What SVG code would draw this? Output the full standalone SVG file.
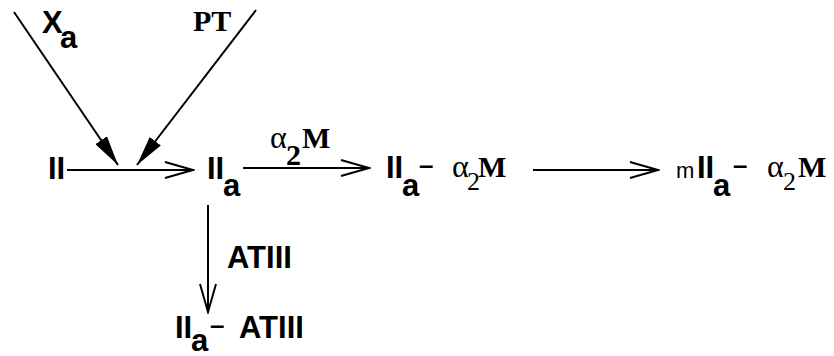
<svg xmlns="http://www.w3.org/2000/svg" width="834" height="356" viewBox="0 0 834 356">
<style>
.s{font-family:"Liberation Sans",Arial,sans-serif;font-weight:bold;font-size:31px;fill:#000}
.d{font-family:"Liberation Sans",Arial,sans-serif;font-weight:bold;font-size:26px;fill:#000}
.m{font-family:"Liberation Sans",Arial,sans-serif;font-size:22px;fill:#000}
.t{font-family:"Liberation Serif","Times New Roman",serif;font-size:32px;fill:#000}
.t2{font-family:"Liberation Serif","Times New Roman",serif;font-size:26px;fill:#000}
.tb{font-family:"Liberation Serif","Times New Roman",serif;font-weight:bold;font-size:30px;fill:#000}
.c{stroke:#000;stroke-width:2;fill:none}
</style>
<defs>
<marker id="fill" markerUnits="userSpaceOnUse" viewBox="0 0 30 14" refX="30" refY="7" markerWidth="30" markerHeight="14" orient="auto">
<path d="M0,0 L30,7 L0,14 z" fill="#000"/>
</marker>
<marker id="open" markerUnits="userSpaceOnUse" viewBox="-2 -2 32 20" refX="28" refY="8" markerWidth="32" markerHeight="20" orient="auto">
<path d="M0,0 L28,8 L0,16" fill="none" stroke="#000" stroke-width="2"/>
</marker>
</defs>
<g id="connectors">
<line class="c" x1="14" y1="12" x2="118" y2="165" marker-end="url(#fill)"/>
<line class="c" x1="256" y1="10" x2="137" y2="165" marker-end="url(#fill)"/>
<line class="c" x1="67" y1="170" x2="193" y2="170" marker-end="url(#open)"/>
<line class="c" x1="243" y1="168" x2="369" y2="168" marker-end="url(#open)"/>
<line class="c" x1="533" y1="170" x2="658" y2="170" marker-end="url(#open)"/>
<line class="c" x1="208" y1="205" x2="208" y2="312" marker-end="url(#open)"/>
</g>
<g id="label-Xa"><text class="s" x="42" y="33">X</text><text class="s" x="60" y="48">a</text></g>
<g id="label-PT"><text class="tb" x="193" y="31">PT</text></g>
<g id="node-II"><text class="s" x="48" y="179">II</text></g>
<g id="node-IIa"><text class="s" x="207" y="179">II</text><text class="s" x="223" y="196">a</text></g>
<g id="label-a2M"><text class="t" x="270" y="148">α</text><text class="tb" x="286" y="165">2</text><text class="tb" x="302" y="148">M</text></g>
<g id="node-IIa-a2M"><text class="s" x="386" y="178">II</text><text class="s" x="402" y="196">a</text><text class="d" x="419" y="174">–</text><text class="t" x="452" y="177">α</text><text class="t2" x="467" y="190">2</text><text class="tb" x="478" y="177">M</text></g>
<g id="node-mIIa-a2M"><text class="m" x="676" y="178">m</text><text class="s" x="697" y="178">II</text><text class="s" x="713" y="196">a</text><text class="d" x="733" y="174">–</text><text class="t" x="767" y="177">α</text><text class="t2" x="783" y="190">2</text><text class="tb" x="798" y="177">M</text></g>
<g id="label-ATIII"><text class="s" x="227" y="268">ATIII</text></g>
<g id="node-IIa-ATIII"><text class="s" x="175" y="338">II</text><text class="s" x="191" y="351">a</text><text class="d" x="210" y="334">–</text><text class="s" x="239" y="338">ATIII</text></g>
</svg>
